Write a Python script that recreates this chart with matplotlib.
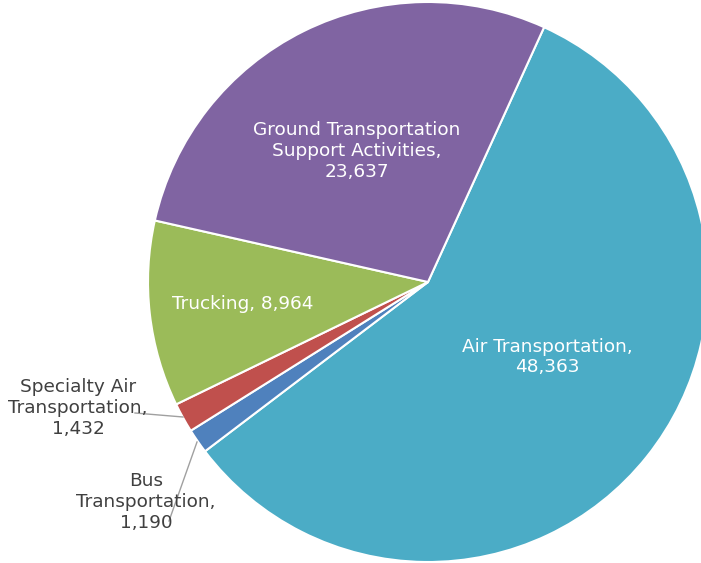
import matplotlib
matplotlib.use("Agg")
import matplotlib.pyplot as plt

# transportation employment by sub-sector
categories = ["Air Transportation", "Bus Transportation", "Specialty Air Transportation",
              "Trucking", "Ground Transportation Support Activities"]
values = [48363, 1190, 1432, 8964, 23637]
label_texts = ["Air Transportation,\n48,363",
               "Bus\nTransportation,\n1,190",
               "Specialty Air\nTransportation,\n1,432",
               "Trucking, 8,964",
               "Ground Transportation\nSupport Activities,\n23,637"]
colors = ["#4BACC6", "#4F81BD", "#C0504D", "#9BBB59", "#8064A2"]

W, H = 701, 563
fig = plt.figure(figsize=(W / 100, H / 100), dpi=100)
ax = fig.add_axes([0, 0, 1, 1])

cx, cy, r = 428, 282, 280
wedges, _ = ax.pie(values, colors=colors, startangle=-65.5, counterclock=True,
                   center=(cx, cy), radius=r, frame=True,
                   wedgeprops=dict(edgecolor="white", linewidth=1.5))
ax.set_xlim(0, W)
ax.set_ylim(H, 0)
ax.set_aspect("equal")
ax.axis("off")

# label placement (pixel coords), inside vs outside
label_pos = [(547, 357), (146, 502), (78, 408), (243, 304), (357, 151)]
inside = [True, False, False, True, True]
for txt, (x, y), ins in zip(label_texts, label_pos, inside):
    ax.text(x, y, txt, ha="center", va="center", fontsize=13.3,
            color="white" if ins else "#404040", linespacing=1.2,
            family="DejaVu Sans")

# leader lines for the two small slices
ax.plot([135, 183], [413, 417], color="#a0a0a0", lw=1)
ax.plot([197, 169], [442, 521], color="#a0a0a0", lw=1)

fig.savefig("out.png", dpi=100)
